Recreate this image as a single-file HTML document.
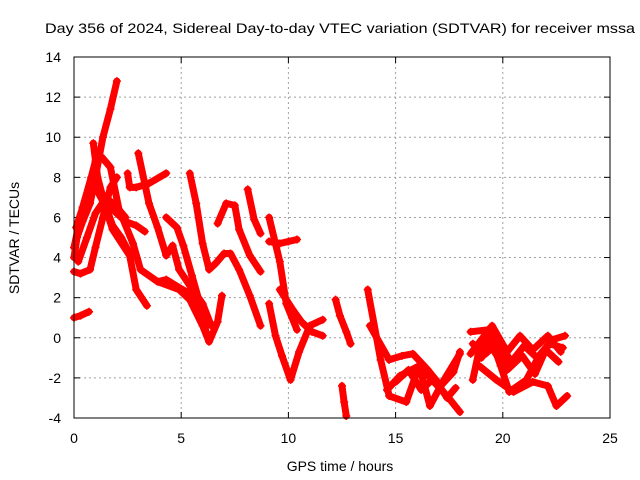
<!DOCTYPE html>
<html><head><meta charset="utf-8"><style>
html,body{margin:0;padding:0;background:#fff}
svg{display:block;font-family:"Liberation Sans",sans-serif}
</style></head><body>
<svg id="chart" width="640" height="480">
<text x="340" y="33" font-size="14" text-anchor="middle" textLength="590" lengthAdjust="spacingAndGlyphs">Day 356 of 2024, Sidereal Day-to-day VTEC variation (SDTVAR) for receiver mssa</text>
<text x="340" y="471" font-size="14" text-anchor="middle">GPS time / hours</text>
<text x="19" y="238" font-size="14" text-anchor="middle" transform="rotate(-90 19 238)">SDTVAR / TECUs</text>
<g id="grid"></g>
<g id="ticks"></g>
<g id="series"></g>
<rect x="74" y="57" width="536" height="361" fill="none" stroke="#000" stroke-width="1"/>
</svg>
<script>
const xTicks = [0,5,10,15,20,25];
const yTicks = [-4,-2,0,2,4,6,8,10,12,14];
const trackX = [
 [0,0.3,0.7],
 [0,0.3,0.75,1.0,1.35,1.7,2.0],
 [0.0,0.14,0.4,0.75,1.0,1.35,1.7,2.0],
 [0,0.4,0.8,1.0,1.3,1.7,2.1,2.75,3.1,3.9,4.9,5.4,6.0,6.3,6.7,6.9],
 [1.0,1.4,1.8,2.6,2.9,3.4],
 [0.9,1.1,1.4,1.8,2.2,2.6],
 [1.5,2.0,2.4,2.9,3.3],
 [2.5,2.6,2.9,3.5,4.3],
 [3.0,3.5,3.9,4.3,4.6,4.9,5.4,6.0,6.4],
 [4.3,4.8,5.1,5.5,5.9,6.2],
 [3.9,4.3,4.9,5.4,5.8],
 [5.4,5.7,6.0,6.3,6.6,7.0,7.3,7.7,8.2,8.7],
 [6.7,7.1,7.5,7.7,8.2,8.7],
 [8.1,8.4,8.7],
 [9.1,9.6,9.9,10.4],
 [9.1,9.6,10.0,10.4],
 [9.1,9.4,9.7,10.1,10.5,11.0,11.6],
 [9.6,10.2,10.6,11.1,11.6],
 [12.2,12.4,12.7,12.9],
 [12.5,12.6,12.7],
 [13.7,14.3,14.7,15.5,16.1,16.7,17.4,18.0],
 [13.8,14.7,15.3,15.8,16.5,17.1,17.7,18.0],
 [14.6,15.2,16.1,16.6,17.2,18.0],
 [18.5,19.3,19.9,20.3,21.1,21.7,22.3,22.9],
 [18.5,19.5,20.2,20.8,21.4,22.1,22.7],
 [18.9,19.7,20.5,21.4,22.1,22.5,23.0],
 [18.6,18.9,19.3,19.8,20.3],
 [0.1,0.5,0.9,1.3,1.6],
 [0.2,0.6,1.0,1.5,2.0,2.4],
 [18.6,19.2,19.8,20.4,21.0,21.6,22.2,22.8],
 [19.0,19.6,20.2,20.9,21.5,22.0,22.6],
 [15.0,15.6,16.2,16.8,17.4,17.8]
];
const trackY = [
 [1.0,1.1,1.3],
 [3.3,3.2,3.4,4.5,6.0,7.5,8.0],
 [4.0,5.0,5.8,6.7,8.0,10.0,11.4,12.8],
 [4.5,6.5,8.0,8.8,9.0,8.5,6.4,4.7,3.4,2.8,2.4,1.9,0.6,-0.2,0.8,2.1],
 [7.5,6.7,5.4,4.1,2.4,1.6],
 [9.7,8.0,6.8,5.6,5.0,4.2],
 [6.7,6.2,5.8,5.6,5.3],
 [8.2,7.5,7.5,7.7,8.2],
 [9.2,6.7,5.5,4.1,4.6,3.4,2.6,1.7,0.6],
 [6.0,5.5,4.6,3.1,1.6,0.1],
 [2.8,2.9,2.5,2.2,1.5],
 [8.2,6.7,4.7,3.4,3.7,4.2,4.2,3.4,2.1,0.6],
 [5.7,6.7,6.6,5.4,4.1,3.3],
 [7.4,5.9,5.2],
 [6.0,3.8,1.7,0.4],
 [4.8,4.7,4.8,4.9],
 [1.7,0.1,-0.9,-2.1,-0.7,0.6,0.9],
 [2.4,1.4,0.8,0.3,0.1],
 [1.9,1.1,0.3,-0.3],
 [-2.4,-3.2,-3.9],
 [2.4,-1.1,-2.9,-3.2,-1.4,-2.1,-2.9,-3.7],
 [0.6,-1.1,-0.9,-0.8,-1.6,-2.4,-1.7,-0.7],
 [-2.6,-1.9,-1.4,-3.4,-2.2,-0.8],
 [0.3,0.4,-1.4,-2.7,-2.1,-0.9,-0.1,0.1],
 [-0.8,0.6,-0.7,0.1,-0.6,0.1,-0.7],
 [-1.4,-2.1,-2.7,-2.2,-2.4,-3.4,-2.9],
 [-2.1,-0.6,-0.2,-1.0,-1.5],
 [5.5,6.8,7.6,7.2,6.6],
 [3.8,5.0,6.2,7.0,6.5,6.0],
 [-0.3,-0.8,-0.2,-1.2,-0.4,-1.0,-0.3,-0.5],
 [-1.0,0.2,-1.6,-0.9,-1.8,-0.6,-1.2],
 [-2.2,-1.6,-2.6,-2.0,-3.0,-2.5]
];
const NS='http://www.w3.org/2000/svg';
const L=74,R=610,T=57,B=418;
const xMin=0,xMax=25,yMin=-4,yMax=14;
function sx(v){return L+(v-xMin)/(xMax-xMin)*(R-L);}
function sy(v){return B-(v-yMin)/(yMax-yMin)*(B-T);}
const grid=document.getElementById('grid'),ticks=document.getElementById('ticks'),series=document.getElementById('series');
function mk(tag,at,parent){const e=document.createElementNS(NS,tag);for(const k in at)e.setAttribute(k,at[k]);parent.appendChild(e);return e;}
xTicks.forEach(v=>{
 const x=sx(v);
 if(v>xMin&&v<xMax){const g=mk('line',{x1:x,x2:x,y1:T,y2:B,stroke:'#a0a0a0','stroke-dasharray':'2,3'},grid);
 
 }
 const tk=mk('line',{x1:x,x2:x,y1:B,y2:B-6,stroke:'#000'},ticks);
 
 
 const tk2=mk('line',{x1:x,x2:x,y1:T,y2:T+6,stroke:'#000'},ticks);
 
 
 const t=mk('text',{x:x,y:443,'font-size':'14','text-anchor':'middle'},ticks);t.textContent=v;
 
 
});
yTicks.forEach(v=>{
 const y=sy(v);
 if(v>yMin&&v<yMax){const g=mk('line',{x1:L,x2:R,y1:y,y2:y,stroke:'#a0a0a0','stroke-dasharray':'2,3'},grid);
 
 }
 const tk=mk('line',{x1:L,x2:L+6,y1:y,y2:y,stroke:'#000'},ticks);
 
 
 const tk2=mk('line',{x1:R,x2:R-6,y1:y,y2:y,stroke:'#000'},ticks);
 
 
 const t=mk('text',{x:61,y:y+5,'font-size':'14','text-anchor':'end'},ticks);t.textContent=v;
 
 
});
trackX.forEach((xs,i)=>{
 const ys=trackY[i];
 const pts=xs.map((x,j)=>sx(x).toFixed(1)+','+sy(ys[j]).toFixed(1)).join(' ');
 const p=mk('polyline',{points:pts,fill:'none',stroke:'#ff0000','stroke-width':7,'stroke-linejoin':'round','stroke-linecap':'round'},series);
 
 
 xs.forEach((x,j)=>{
  const cx=sx(x),cy=sy(ys[j]);
  const m=mk('path',{d:`M${cx-4},${cy}h8M${cx},${cy-4}v8`,stroke:'#ff0000','stroke-width':1.5},series);
  
  
 });
});
</script>
</body></html>
